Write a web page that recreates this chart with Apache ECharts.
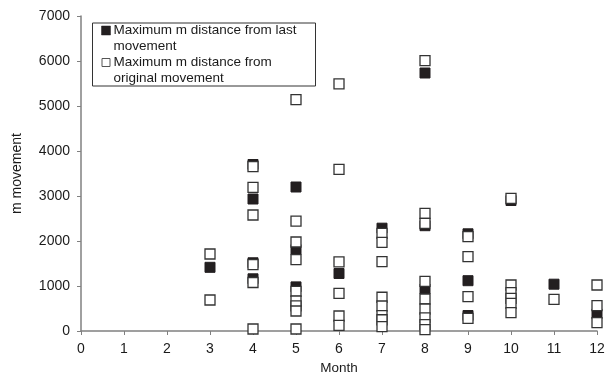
<!DOCTYPE html>
<html>
<head>
<meta charset="utf-8">
<script src="https://cdn.jsdelivr.net/npm/echarts@6/dist/echarts.min.js"></script>
<style>
  html, body { margin: 0; padding: 0; background: #fff; }
  #chart { width: 613px; height: 374px; }
</style>
</head>
<body>
<div id="chart"></div>
<script>
// Maximum distance (m) from the last movement, by month
const lastMonths = [3, 4, 4, 4, 4, 5, 5, 5, 6, 7, 8, 8, 8, 9, 9, 9, 10, 11, 12];
const lastValues = [1415, 3700, 2933, 1516, 1160, 3200, 1811, 980, 1278, 2285, 5733, 2340, 933, 2160, 1118, 344, 2900, 1040, 380];

// Maximum distance (m) from the original movement, by month
const origMonths = [3, 3,
  4, 4, 4, 4, 4, 4,
  5, 5, 5, 5, 5, 5, 5, 5, 5,
  6, 6, 6, 6, 6, 6,
  7, 7, 7, 7, 7, 7, 7, 7,
  8, 8, 8, 8, 8, 8, 8, 8, 8,
  9, 9, 9, 9,
  10, 10, 10, 10, 10, 10,
  11,
  12, 12, 12];
const origValues = [1711, 689,
  3652, 3193, 2578, 1474, 1078, 44,
  5140, 2440, 1978, 1585, 880, 667, 560, 444, 44,
  5490, 3593, 1535, 838, 333, 126,
  2170, 1970, 1540, 750, 556, 340, 250, 96,
  6007, 2615, 2393, 1104, 711, 489, 290, 140, 30,
  2096, 1652, 763, 281,
  2948, 1022, 851, 726, 615, 407,
  704,
  1022, 563, 185];

const lastName = 'Maximum m distance from last\nmovement';
const origName = 'Maximum m distance from\noriginal movement';

const pairs = (xs, ys) => xs.map((x, i) => [x, ys[i]]);

const chart = echarts.init(document.getElementById('chart'), null, { renderer: 'canvas' });
const font = 'Liberation Sans, Arial, sans-serif';
const ink = '#1a1a1a';

// Boxed key with each swatch beside the first line of its two-line caption
const legendGroup = {
  type: 'group',
  left: 92,
  top: 22,
  z: 10,
  children: [
    { type: 'rect', shape: { x: 0, y: 0, width: 223, height: 63 },
      style: { fill: '#fff', stroke: '#333', lineWidth: 1 } },
    { type: 'rect', shape: { x: 9, y: 3, width: 9, height: 9 },
      style: { fill: '#231f20', stroke: '#231f20', lineWidth: 0.5 } },
    { type: 'text', x: 21, y: -1,
      style: { text: lastName, font: '13.5px ' + font, fill: ink, lineHeight: 16, verticalAlign: 'top' } },
    { type: 'rect', shape: { x: 9.5, y: 35.5, width: 8, height: 8 },
      style: { fill: '#fff', stroke: '#555', lineWidth: 1 } },
    { type: 'text', x: 21, y: 32,
      style: { text: origName, font: '13.5px ' + font, fill: ink, lineHeight: 15.5, verticalAlign: 'top' } }
  ]
};

chart.setOption({
  animation: false,
  backgroundColor: '#fff',
  textStyle: { fontFamily: font },
  grid: { left: 81, right: 16, top: 16, bottom: 43, containLabel: false, outerBoundsMode: 'none' },
  graphic: [legendGroup],
  xAxis: {
    type: 'value',
    min: 0,
    max: 12,
    interval: 1,
    name: 'Month',
    nameLocation: 'middle',
    nameGap: 28,
    nameTextStyle: { fontFamily: font, fontSize: 13.5, color: ink },
    axisLine: { lineStyle: { color: '#808080', width: 1.5 } },
    axisTick: { show: true, inside: false, length: 4, lineStyle: { color: '#808080' } },
    axisLabel: { fontFamily: font, fontSize: 14, color: ink, margin: 11 },
    splitLine: { show: false }
  },
  yAxis: {
    type: 'value',
    min: 0,
    max: 7000,
    interval: 1000,
    name: 'm movement',
    nameLocation: 'middle',
    nameGap: 57,
    nameRotate: 90,
    nameTextStyle: { fontFamily: font, fontSize: 14, color: ink },
    axisLine: { show: true, lineStyle: { color: '#808080', width: 1.5 } },
    axisTick: { show: true, inside: false, length: 4, lineStyle: { color: '#808080' } },
    axisLabel: { fontFamily: font, fontSize: 14, color: ink, margin: 11, formatter: v => String(v) },
    splitLine: { show: false }
  },
  series: [
    {
      name: lastName,
      type: 'scatter',
      symbol: 'rect',
      symbolSize: 10,
      itemStyle: { color: '#231f20', borderColor: '#231f20', borderWidth: 1, opacity: 1 },
      data: pairs(lastMonths, lastValues),
      z: 2
    },
    {
      name: origName,
      type: 'scatter',
      symbol: 'rect',
      symbolSize: 10,
      itemStyle: { color: '#fff', borderColor: '#333', borderWidth: 1.3, opacity: 1 },
      data: pairs(origMonths, origValues),
      z: 3
    }
  ]
});
</script>
</body>
</html>
